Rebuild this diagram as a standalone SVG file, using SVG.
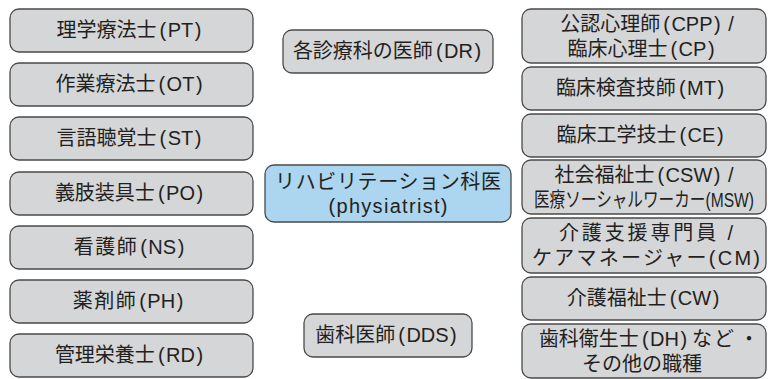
<svg xmlns="http://www.w3.org/2000/svg" width="776" height="379" viewBox="0 0 776 379">
<style>
.box{fill:#d5d6d8;stroke:#4a4a4a;stroke-width:1.3}
.hub{fill:#acd5ef;stroke:#4a4a4a;stroke-width:1.3}
text{font-family:"Liberation Sans","Noto Sans CJK JP",sans-serif;font-size:20px;fill:#231f20;text-anchor:middle}
</style>
<rect width="776" height="379" fill="#ffffff"/>
<g id="pt"><rect class="box" x="10" y="9" width="243" height="43" rx="9"/><text x="129" y="37">理学療法士<tspan dx="3">(</tspan><tspan dx="1.5">PT</tspan><tspan dx="1.5">)</tspan></text></g>
<g id="ot"><rect class="box" x="10" y="63" width="243" height="43" rx="9"/><text x="129" y="91">作業療法士<tspan dx="3">(</tspan><tspan dx="1.5">OT</tspan><tspan dx="1.5">)</tspan></text></g>
<g id="st"><rect class="box" x="10" y="117" width="243" height="43" rx="9"/><text x="129" y="145">言語聴覚士<tspan dx="3">(</tspan><tspan dx="1.5">ST</tspan><tspan dx="1.5">)</tspan></text></g>
<g id="po"><rect class="box" x="10" y="172" width="243" height="43" rx="9"/><text x="129" y="200">義肢装具士<tspan dx="3">(</tspan><tspan dx="1.5">PO</tspan><tspan dx="1.5">)</tspan></text></g>
<g id="ns"><rect class="box" x="10" y="226" width="243" height="43" rx="9"/><text x="129" y="254"><tspan letter-spacing="1.5">看護師</tspan><tspan dx="2">(</tspan><tspan dx="1.5">NS</tspan><tspan dx="1.5">)</tspan></text></g>
<g id="ph"><rect class="box" x="10" y="280" width="243" height="43" rx="9"/><text x="128" y="308"><tspan letter-spacing="1.5">薬剤師</tspan><tspan dx="2">(</tspan><tspan dx="1.5">PH</tspan><tspan dx="1.5">)</tspan></text></g>
<g id="rd"><rect class="box" x="10" y="334" width="243" height="43" rx="9"/><text x="129" y="362">管理栄養士<tspan dx="3">(</tspan><tspan dx="1.5">RD</tspan><tspan dx="1.5">)</tspan></text></g>
<g id="dr"><rect class="box" x="283" y="30" width="210" height="43" rx="9"/><text x="387" y="58">各診療科の医師<tspan dx="3">(</tspan><tspan dx="1.5">DR</tspan><tspan dx="1.5">)</tspan></text></g>
<g id="physiatrist"><rect class="hub" x="265" y="165" width="246" height="57" rx="9"/><text x="388" y="189" textLength="226" lengthAdjust="spacing">リハビリテーション科医</text><text x="388" y="213" textLength="119" lengthAdjust="spacing">(physiatrist)</text></g>
<g id="dds"><rect class="box" x="304" y="314" width="168" height="43" rx="9"/><text x="386" y="342">歯科医師<tspan dx="3">(</tspan><tspan dx="1.5">DDS</tspan><tspan dx="1.5">)</tspan></text></g>
<g id="cpp"><rect class="box" x="522" y="9" width="244" height="54" rx="9"/><text x="647" y="31">公認心理師<tspan dx="3">(</tspan><tspan dx="1.5">CPP</tspan><tspan dx="1.5">)</tspan><tspan dx="2"> /</tspan></text><text x="641" y="56">臨床心理士<tspan dx="3">(</tspan><tspan dx="1.5">CP</tspan><tspan dx="1.5">)</tspan></text></g>
<g id="mt"><rect class="box" x="522" y="67" width="244" height="43" rx="9"/><text x="640" y="95">臨床検査技師<tspan dx="3">(</tspan><tspan dx="1.5">MT</tspan><tspan dx="1.5">)</tspan></text></g>
<g id="ce"><rect class="box" x="522" y="114" width="244" height="43" rx="9"/><text x="640" y="142">臨床工学技士<tspan dx="3">(</tspan><tspan dx="1.5">CE</tspan><tspan dx="1.5">)</tspan></text></g>
<g id="csw"><rect class="box" x="522" y="160" width="244" height="54" rx="9"/><text x="644" y="182">社会福祉士<tspan dx="3">(</tspan><tspan dx="1.5">CSW</tspan><tspan dx="1.5">)</tspan><tspan dx="2"> /</tspan></text><text x="644" y="207" font-size="17" textLength="220" lengthAdjust="spacingAndGlyphs">医療ソーシャルワーカー(MSW)</text></g>
<g id="cm"><rect class="box" x="522" y="218" width="244" height="55" rx="9"/><text x="646" y="240" textLength="174" lengthAdjust="spacing">介護支援専門員 /</text><text x="646" y="265" textLength="228" lengthAdjust="spacing">ケアマネージャー(CM)</text></g>
<g id="cw"><rect class="box" x="522" y="277" width="244" height="43" rx="9"/><text x="643" y="305">介護福祉士<tspan dx="3">(</tspan><tspan dx="1.5">CW</tspan><tspan dx="1.5">)</tspan></text></g>
<g id="dh"><rect class="box" x="522" y="324" width="244" height="54" rx="9"/><text x="649" y="346">歯科衛生士<tspan dx="3">(</tspan><tspan dx="1.5">DH</tspan><tspan dx="1.5">)</tspan><tspan dx="5">な</tspan><tspan dx="2">ど</tspan><tspan dx="5">・</tspan></text><text x="642" y="371">その他の職種</text></g>
<g id="connectors"></g>
</svg>
